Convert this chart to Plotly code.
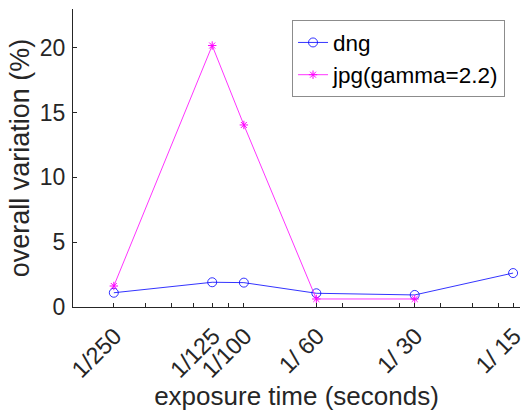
import plotly.graph_objects as go

# exposure times (denominators of 1/x seconds)
denominators = [250, 125, 100, 60, 30, 15]
tick_labels = ["1/250", "1/125", "1/100", "1/ 60", "1/ 30", "1/ 15"]
dng_values = [1.1, 1.91, 1.88, 1.06, 0.93, 2.62]
jpg_values = [1.62, 20.18, 14.05, 0.62, 0.62]
minor_ticks = [0.005, 0.006, 0.007, 0.008, 0.009, 0.02, 0.03, 0.04, 0.05, 0.06, 0.07]
y_ticks = [0, 5, 10, 15, 20]

exposure = [1.0 / d for d in denominators]

fig = go.Figure()
fig.add_trace(go.Scatter(
    x=exposure, y=dng_values, name="dng", mode="lines+markers",
    line=dict(color="rgb(0,0,255)", width=0.8),
    marker=dict(symbol="circle-open", size=9, color="rgb(0,0,255)", line=dict(width=0.8)),
))
fig.add_trace(go.Scatter(
    x=exposure[:len(jpg_values)], y=jpg_values, name="jpg(gamma=2.2)", mode="lines+markers",
    line=dict(color="rgb(255,0,255)", width=0.8),
    marker=dict(symbol="asterisk-open", size=7, color="rgb(255,0,255)", line=dict(width=1, color="rgb(255,0,255)")),
))

axis_color = "#262626"
fig.update_layout(
    width=528, height=411,
    margin=dict(l=73, r=8, t=9, b=104, autoexpand=False),
    paper_bgcolor="white", plot_bgcolor="white",
    font=dict(family="Liberation Sans, Arial, sans-serif", color=axis_color, size=23),
    showlegend=True,
    legend=dict(
        x=0.49, y=0.962, xanchor="left", yanchor="top",
        bgcolor="white", bordercolor="#8c8c8c", borderwidth=1,
        font=dict(size=22.5, color="black"),
        tracegroupgap=0, itemwidth=30,
    ),
    xaxis=dict(
        type="log", range=[-2.5228787, -1.1549020],
        tickmode="array", tickvals=exposure, ticktext=tick_labels,
        tickangle=-45, ticks="inside", ticklen=4, tickcolor=axis_color,
        ticklabelshift=1, ticklabelstandoff=5, ticklabeloverflow="allow",
        showline=True, linecolor=axis_color, linewidth=1,
        showgrid=False, zeroline=False, automargin=False,
        tickfont=dict(size=23.5),
        minor=dict(tickvals=minor_ticks, ticks="inside", ticklen=4, tickcolor=axis_color, showgrid=False),
        title=dict(text="exposure time (seconds)", font=dict(size=26), standoff=4),
    ),
    yaxis=dict(
        range=[0, 23], tickmode="array", tickvals=y_ticks,
        ticks="inside", ticklen=4, tickcolor=axis_color,
        ticklabelstandoff=2,
        showline=True, linecolor=axis_color, linewidth=1,
        showgrid=False, zeroline=False, automargin=False,
        tickfont=dict(size=23),
        title=dict(text="overall variation (%)", font=dict(size=27), standoff=2),
    ),
)

fig.write_html("out.html")
